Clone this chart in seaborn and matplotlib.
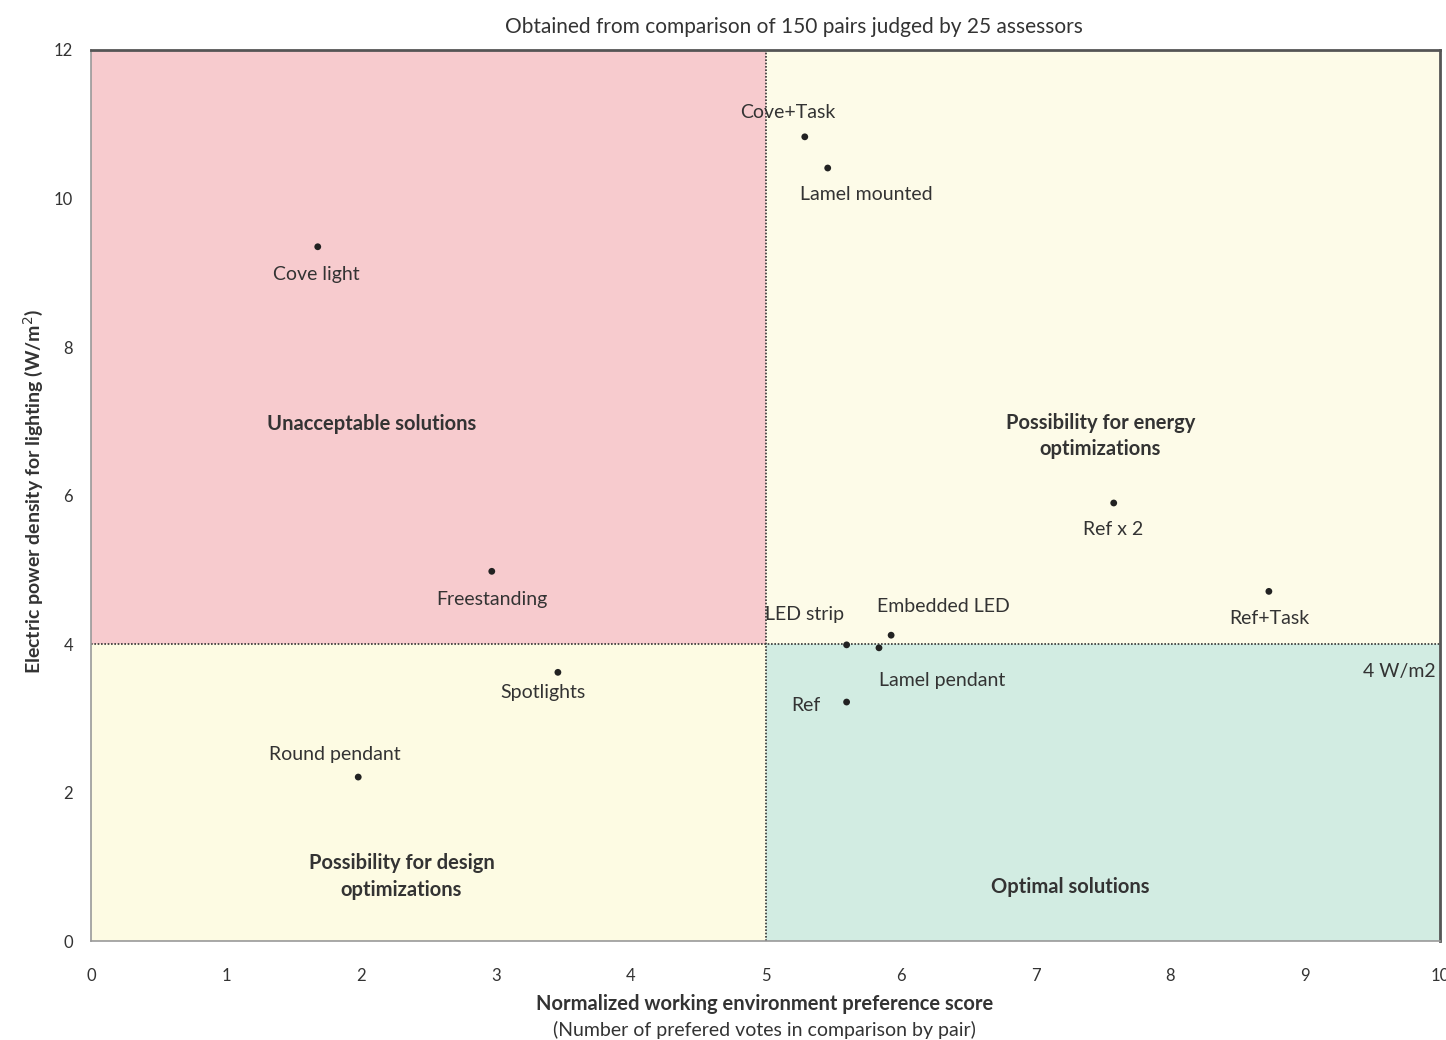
import matplotlib
matplotlib.use('Agg')
import matplotlib.pyplot as plt
import seaborn as sns
import pandas as pd

# ======================================
# Data
# ======================================

solutions = ['Cove light', 'Cove+Task', 'Lamel mounted', 'Freestanding',
             'Spotlights', 'Round pendant', 'Ref x 2', 'Ref+Task',
             'LED strip', 'Embedded LED', 'Lamel pendant', 'Ref']
preference = [1.68, 5.29, 5.46, 2.97, 3.46, 1.98, 7.58, 8.73, 5.60, 5.93, 5.84, 5.60]
power_density = [9.35, 10.83, 10.41, 4.98, 3.62, 2.21, 5.90, 4.71, 3.99, 4.12, 3.95, 3.22]

x_ticks = [0, 1, 2, 3, 4, 5, 6, 7, 8, 9, 10]
y_ticks = [0, 2, 4, 6, 8, 10, 12]

score_split = 5
power_limit = 4

df = pd.DataFrame({'solution': solutions,
                   'score': preference,
                   'power': power_density})

# label offsets in pixels (dx, dy) from each point
label_offsets = {
    'Cove light': (-1, -28), 'Cove+Task': (-17, 24), 'Lamel mounted': (39, -26),
    'Freestanding': (0, -28), 'Spotlights': (-15, -20), 'Round pendant': (-23, 23),
    'Ref x 2': (-1, -27), 'Ref+Task': (0, -27), 'LED strip': (-42, 30),
    'Embedded LED': (52, 29), 'Lamel pendant': (63, -33), 'Ref': (-41, -3),
}

# ======================================
# Plot
# ======================================

sns.set_style('white')
plt.rcParams['font.family'] = ['Lato', 'DejaVu Sans']

fig = plt.figure(figsize=(14.46, 10.4), dpi=100)
ax = fig.add_axes([0.063, 0.095, 0.933, 0.857])

# quadrants
ax.fill_between([0, score_split], power_limit, 12, color='#f7cbce', zorder=0, lw=0)
ax.fill_between([score_split, 10], power_limit, 12, color='#fdfbe8', zorder=0, lw=0)
ax.fill_between([0, score_split], 0, power_limit, color='#fdfbe3', zorder=0, lw=0)
ax.fill_between([score_split, 10], 0, power_limit, color='#d2ece2', zorder=0, lw=0)

ax.axvline(score_split, color='#333333', ls=(0, (1, 1)), lw=1.2, zorder=1)
ax.axhline(power_limit, color='#333333', ls=(0, (1, 1)), lw=1.2, zorder=1)

sns.scatterplot(data=df, x='score', y='power', color='#222222',
                s=24, edgecolor='none', ax=ax, zorder=3)
ax.set_xlabel('')
ax.set_ylabel('')

for name, xv, yv in zip(solutions, preference, power_density):
    dx, dy = label_offsets[name]
    ax.annotate(name, (xv, yv), xytext=(dx, dy), textcoords='offset pixels',
                ha='center', va='center', fontsize=14, color='#333333')

ax.text(9.7, 3.63, '4 W/m2', ha='center', va='center', fontsize=14, color='#333333')

region_kw = dict(ha='center', va='center', fontsize=14.5, fontweight='bold',
                 color='#333333', linespacing=1.4)
ax.text(2.08, 6.97, 'Unacceptable solutions', **region_kw)
ax.text(7.48, 6.8, 'Possibility for energy\noptimizations', **region_kw)
ax.text(2.3, 0.87, 'Possibility for design\noptimizations', **region_kw)
ax.text(7.26, 0.73, 'Optimal solutions', **region_kw)

ax.set_xlim(0, 10)
ax.set_ylim(0, 12)
ax.set_xticks(x_ticks)
ax.set_yticks(y_ticks)
ax.tick_params(axis='both', which='both', length=5, width=1, color='#888888',
               labelsize=12, labelcolor='#333333')
ax.tick_params(axis='x', pad=14)
ax.tick_params(axis='y', pad=8)

for side in ['left', 'bottom']:
    ax.spines[side].set_color('#999999')
    ax.spines[side].set_linewidth(1.2)
for side in ['top', 'right']:
    ax.spines[side].set_color('#555555')
    ax.spines[side].set_linewidth(2)

fig.text(0.549, 0.974, 'Obtained from comparison of 150 pairs judged by 25 assessors',
         ha='center', va='center', fontsize=15, color='#333333')

fig.text(0.529, 0.035, 'Normalized working environment preference score',
         ha='center', va='center', fontsize=14.5, fontweight='bold', color='#333333')
fig.text(0.529, 0.01, '(Number of prefered votes in comparison by pair)',
         ha='center', va='center', fontsize=14, color='#333333')

fig.text(0.023, 0.527, 'Electric power density for lighting (W/m$^2$)',
         ha='center', va='center', rotation=90, fontsize=14, fontweight='bold',
         color='#333333')

fig.savefig('out.png', dpi=100)
